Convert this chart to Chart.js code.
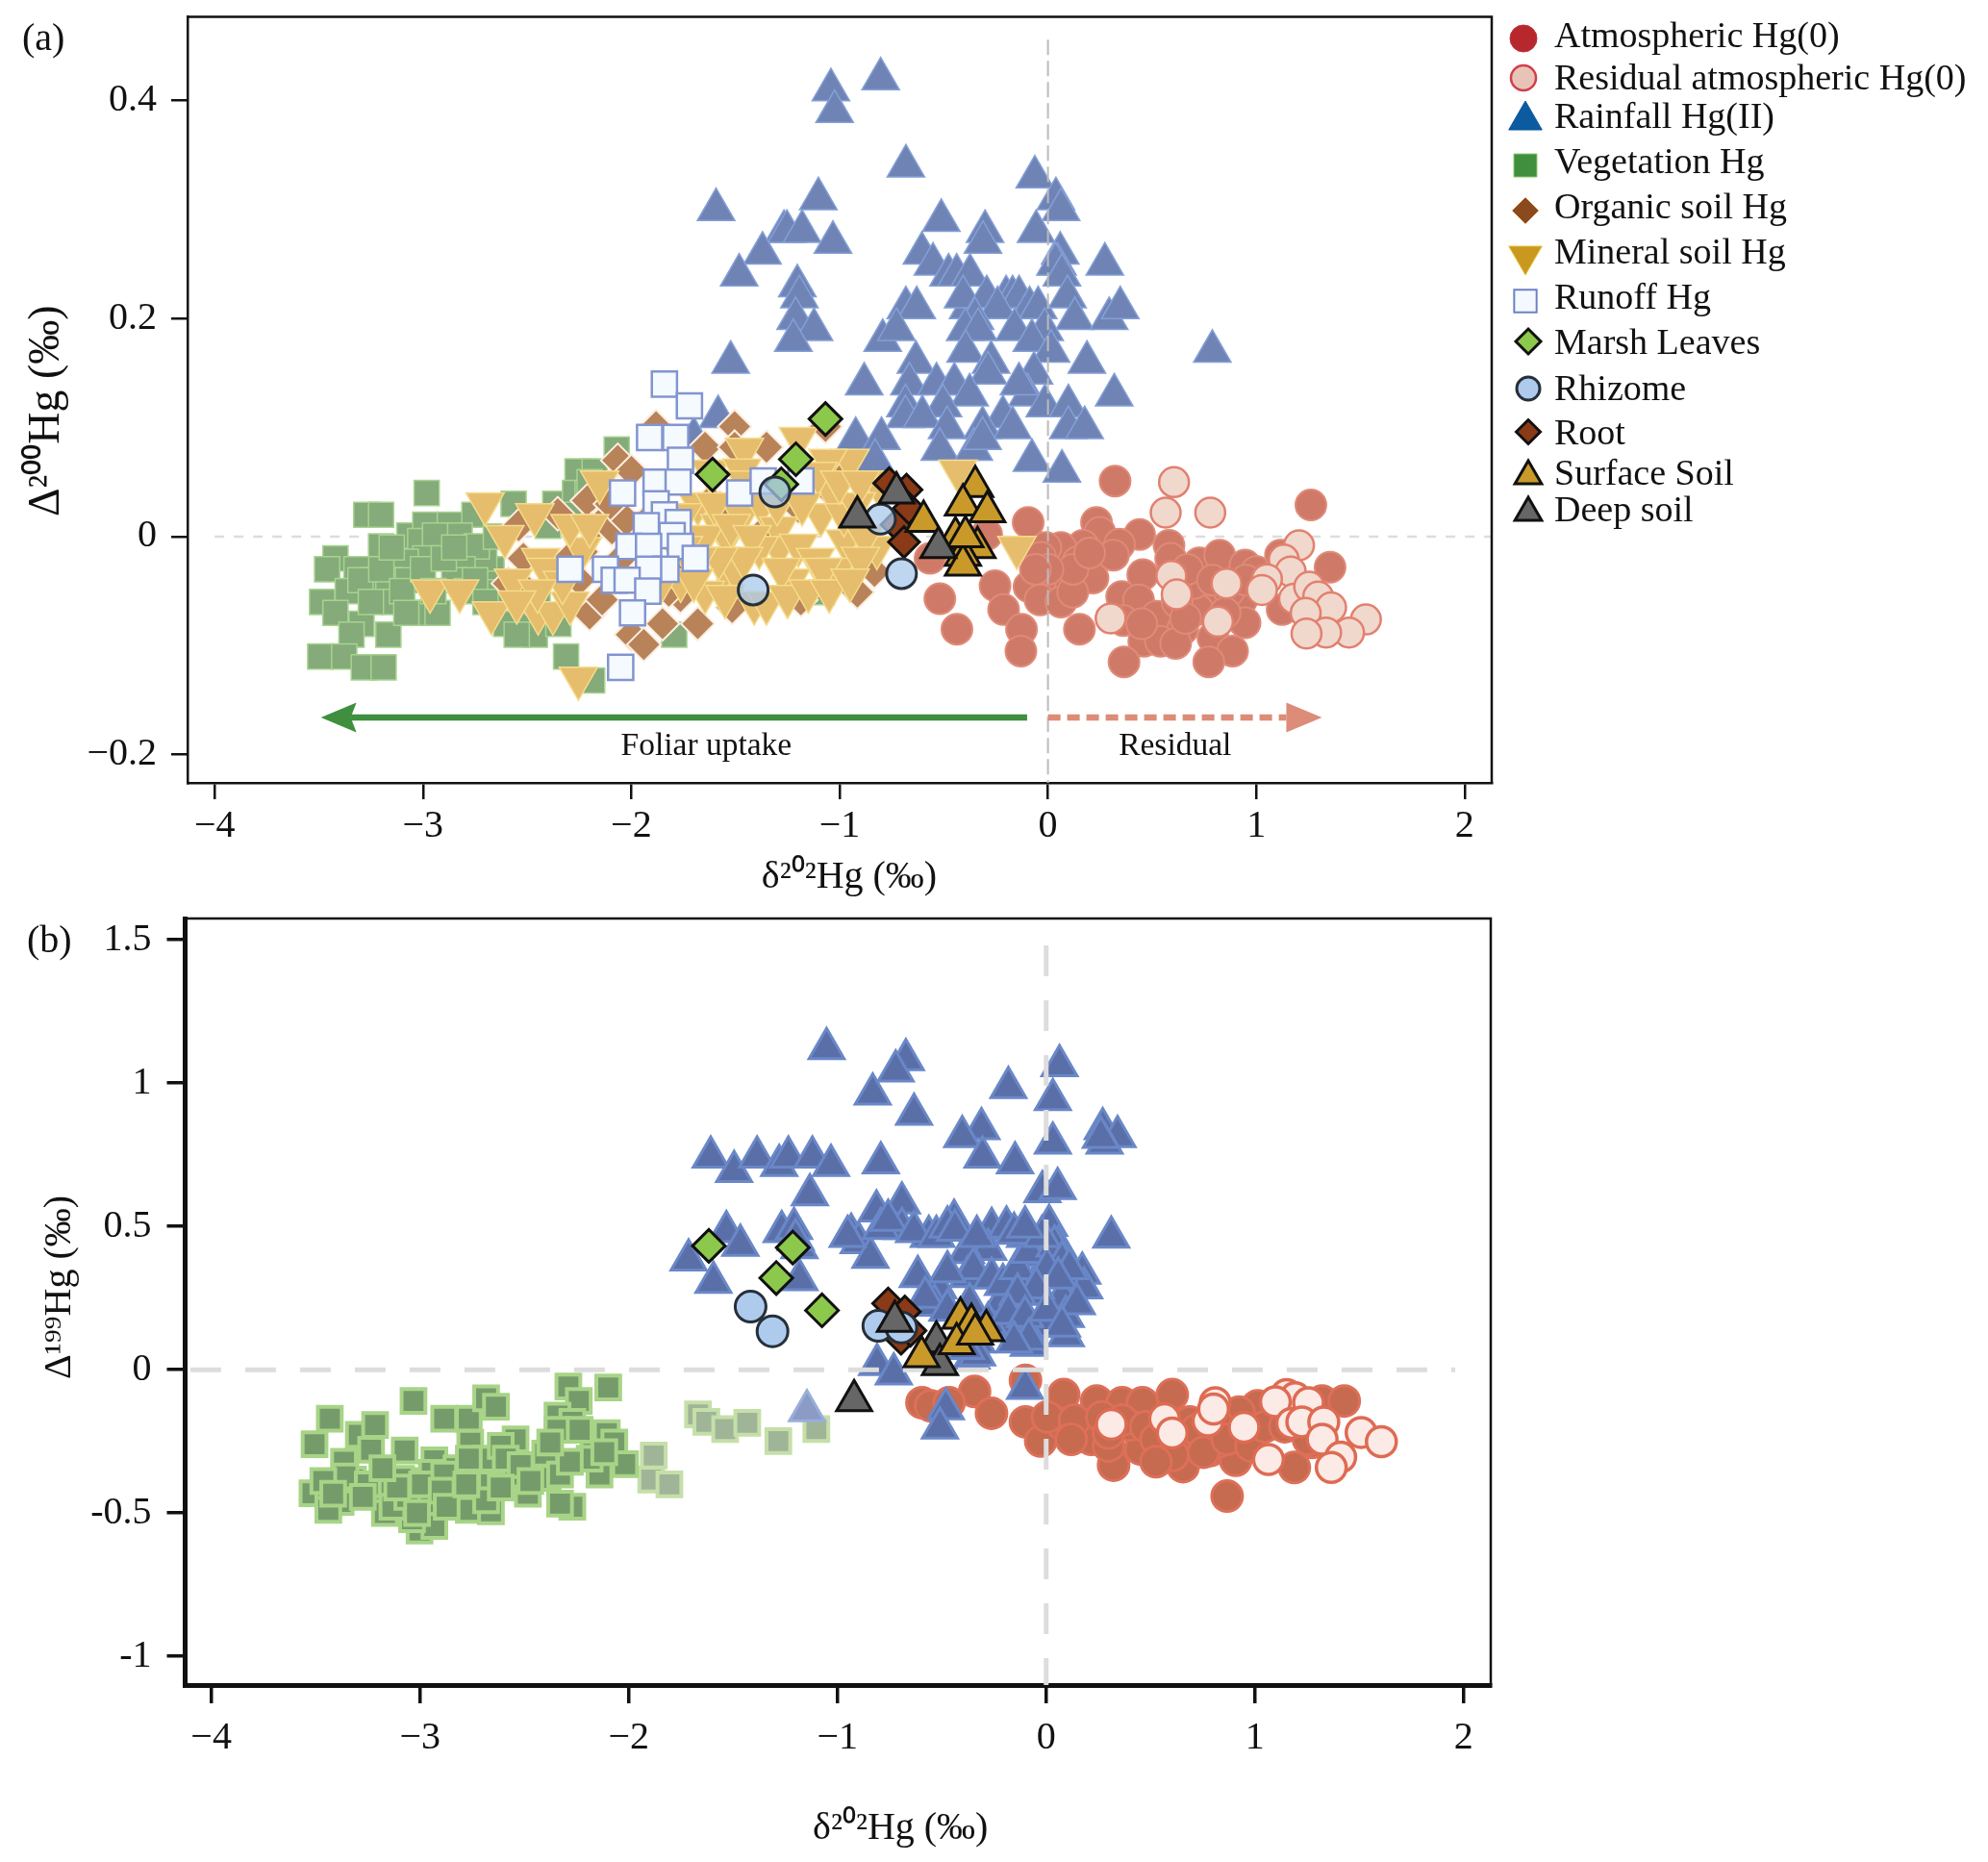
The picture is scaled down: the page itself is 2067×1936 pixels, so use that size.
<!DOCTYPE html>
<html>
<head>
<meta charset="utf-8">
<style>
  html, body { margin: 0; padding: 0; background: #fff; }
  canvas { position: absolute; left: 0; }
  #chartA { top: -7px; }
  #chartB { top: 931px; }
</style>
<script src="https://cdn.jsdelivr.net/npm/chart.js@4"></script>
</head>
<body>
<canvas id="chartA" width="2067" height="952"></canvas>
<canvas id="chartB" width="2067" height="1005"></canvas>
<script>
// axis ticks
const xTicks = [-4, -3, -2, -1, 0, 1, 2];
const xTickLabels = ['−4', '−3', '−2', '−1', '0', '1', '2'];
const yTicksA = [-0.2, 0, 0.2, 0.4];
const yTickLabelsA = ['−0.2', '0', '0.2', '0.4'];
const yTicksB = [-1, -0.5, 0, 0.5, 1, 1.5];
const yTickLabelsB = ['-1', '-0.5', '0', '0.5', '1', '1.5'];

const legendLabels = ['Atmospheric Hg(0)', 'Residual atmospheric Hg(0)', 'Rainfall Hg(II)', 'Vegetation Hg', 'Organic soil Hg',
  'Mineral soil Hg', 'Runoff Hg', 'Marsh Leaves', 'Rhizome', 'Root', 'Surface Soil', 'Deep soil'];

// panel (a): delta202 vs Delta200
const atmosphericA = [[.322,.051],[1.262,.029],[-.095,.013],[.233,.013],[.249,.004],[.44,.002],[.343,-.007],[.314,-.017],[.168,-.008],[.062,-.01],
  [-.01,-.01],[-.035,-.019],[.143,-.023],[.581,-.008],[.216,-.038],[.07,-.04],[-.035,-.04],[-.091,-.046],[-.254,-.045],[-.213,-.067],
  [-.127,-.085],[-.13,-.105],[-.437,-.085],[-.519,-.057],[-.038,-.058],[.062,-.06],[.119,-.051],[.151,-.085],[.455,-.035],[.354,-.055],
  [.435,-.058],[.362,-.077],[.521,-.073],[.646,-.085],[.46,-.096],[.54,-.096],[.613,-.098],[.365,-.115],[.727,-.024],[.824,-.017],
  [.946,-.026],[1.0,-.032],[.767,-.055],[.719,-.067],[.93,-.058],[.946,-.079],[.792,-.093],[.886,-.105],[.772,-.115],[1.116,-.017],
  [1.124,-.067],[1.354,-.028],[-.294,.002],[-.566,-.02],[.589,-.02],[.7,-.043],
  [.12,-.03],[.2,-.015],[.67,-.03],[.87,-.05],[.62,-.06],[.66,-.075],[.85,-.07],[.45,-.08],[0,-.03],[-.06,-.03],[.79,-.04],[.95,-.04]];
const residualA = [[.605,.05],[.565,.022],[.779,.022],[1.205,-.008],[1.132,-.021],[1.165,-.032],[1.051,-.039],[1.027,-.049],[.592,-.036],[.618,-.053],
  [.857,-.043],[.301,-.075],[.816,-.078],[1.181,-.057],[1.254,-.046],[1.297,-.055],[1.359,-.065],[1.237,-.07],[1.526,-.076],[1.445,-.088],
  [1.335,-.088],[1.241,-.089]];
const rainfallA = [[-.803,.42],[-1.042,.41],[-1.024,.39],[-.682,.34],[-.063,.33],[.038,.31],[.063,.3],[-1.593,.3],[-1.102,.31],[-.512,.29],
  [-.302,.28],[-.312,.27],[-.057,.28],[-1.267,.28],[-1.253,.28],[-1.18,.28],[-1.032,.27],[-1.37,.26],[-1.482,.24],[-.605,.26],
  [-.552,.25],[-.477,.24],[-.438,.24],[-.374,.24],[.273,.25],[.059,.26],[.046,.25],[.036,.25],[.067,.24],[-1.203,.23],
  [-1.193,.22],[-1.211,.2],[-1.123,.19],[-1.222,.18],[-.682,.21],[-.63,.21],[-.383,.21],[-.407,.22],[-.294,.22],[-.201,.22],
  [-.17,.22],[-.139,.22],[-.242,.21],[-.088,.21],[-.047,.21],[.094,.22],[.129,.2],[.294,.2],[.347,.21],[-.35,.2],
  [-.397,.19],[-.335,.19],[-.16,.19],[-.016,.19],[-.077,.18],[.015,.17],[.789,.17],[-.793,.18],[-.727,.19],[-.395,.17],
  [-.634,.16],[-.273,.16],[.187,.16],[-1.523,.16],[-.882,.14],[-.665,.14],[-.535,.14],[-.449,.14],[-.288,.15],[-.067,.15],
  [.318,.13],[-.098,.13],[-.139,.14],[-.376,.13],[-.015,.12],[.098,.12],[-.684,.12],[-.504,.12],[-.216,.11],[-.684,.11],
  [-.603,.11],[-1.583,.11],[-.484,.1],[.098,.1],[.176,.1],[-.314,.1],[-.17,.1],[-.923,.09],[-.799,.09],[-.519,.08],
  [-.356,.08],[-.314,.09],[-.077,.07],[.067,.06],[-.83,.07],[-1.7,.09]];
const vegetationA = [[-2.982,.04],[-3.272,.02],[-3.201,.02],[-3.065,.001],[-3.201,-.009],[-2.989,.011],[-2.871,.011],[-2.753,.02],[-2.824,.001],[-3.013,-.004],
  [-2.942,.001],[-2.989,-.02],[-3.083,-.023],[-3.42,-.02],[-3.46,-.03],[-3.319,-.03],[-3.237,-.04],[-3.166,-.04],[-3.072,-.04],[-3.361,-.05],
  [-3.484,-.06],[-3.42,-.07],[-3.295,-.08],[-3.343,-.09],[-3.166,-.09],[-3.493,-.11],[-3.378,-.11],[-3.284,-.12],[-3.189,-.12],[-3.001,-.07],
  [-2.93,-.07],[-3.142,-.06],[-2.671,-.03],[-2.706,-.02],[-2.742,-.009],[-2.647,-.051],[-2.565,.03],[-2.365,.03],[-2.258,.06],[-2.176,.06],
  [-2.07,.08],[-2.27,.04],[-2.21,.04],[-2.53,-.07],[-2.463,-.09],[-2.313,-.11],[-2.188,-.132],[-1.794,-.09],[-1.085,-.051],[-1.528,-.05],
  [-2.81,-.03],[-2.85,-.04],[-2.79,-.05],
  [-3.3,-.04],[-3.2,-.03],[-3.1,-.05],[-3,-.03],[-2.95,-.05],[-2.9,-.02],[-2.85,-.01],[-2.75,-.04],[-2.7,-.06],[-2.6,-.08],
  [-2.65,0],[-2.55,-.09],[-2.45,-.06],[-2.35,-.08],[-2.3,.02],[-2.4,.01],[-3.15,-.01],[-3.08,-.07],[-3.25,-.06],[-2.2,.05]];
const organicA = [[-2.065,.07],[-2.211,.033],[-1.881,.101],[-1.504,.101],[-1.646,.082],[-1.504,.082],[-1.351,.082],[-1.068,.101],[-1.999,.06],[-2.353,.021],
  [-2.541,.01],[-2.518,-.02],[-2.117,.018],[-2.188,.007],[-2.093,.007],[-2.023,.015],[-2.235,-.014],[-2.2,-.071],[-2.14,-.058],[-2,-.09],
  [-1.94,-.099],[-1.764,-.055],[-1.681,-.08],[-1.516,-.065],[-1.186,-.058],[-.915,-.051],[-.833,-.032],[-1.62,.033],[-1.575,.027],[-1.386,.001],
  [-1.198,.027],[-1.033,.039],[-.986,.054],[-1.82,-.05],[-1.76,-.04],[-1.29,.048],[-2.59,-.043],[-2.518,-.046],
  [-2.3,-.02],[-2.25,-.04],[-2.1,-.03],[-2.05,-.02],[-1.95,-.04],[-1.85,-.08],[-1.9,.02],[-2.1,.03],[-1.75,-.02]];
const mineralA = [[-2.966,-.05],[-2.824,-.05],[-2.702,.03],[-2.607,0],[-2.463,.02],[-2.671,-.07],[-2.565,-.04],[-2.435,-.021],[-2.235,-.011],[-2.294,.01],
  [-2.152,.05],[-2.447,-.07],[-2.376,-.07],[-2.294,-.061],[-2.254,-.13],[-2.41,-.03],[-2.33,-.042],[-1.681,.03],[-1.457,.08],[-1.198,.09],
  [-.95,.07],[-1.056,.07],[-1.033,.04],[-1.09,.02],[-1.575,.01],[-1.54,0],[-1.469,.02],[-1.375,.03],[-1.292,.008],[-.974,-.004],
  [-1.292,-.01],[-1.198,-.008],[-1.386,-.01],[-.821,-.01],[-1.116,-.021],[-1.01,-.03],[-1.551,-.03],[-1.233,-.04],[-1.41,-.061],[-1.351,-.061],
  [-1.646,-.051],[-1.504,-.03],[-1.763,-.04],[-.432,.06],[-.149,-.01],[-.821,.05],[-1.622,.06],[-1.469,.061],[-1.104,.058],[-1.81,0],[-1.858,-.042],
  [-1.75,.02],[-1.7,-.01],[-1.6,.03],[-1.65,0],[-1.45,.05],[-1.52,.01],[-1.42,0],[-1.3,.03],[-1.18,.03],[-.98,.02],
  [-.92,.03],[-.88,0],[-.9,-.02],[-1.08,-.03],[-1.28,-.03],[-1.46,-.02],[-1.58,-.02],[-1.68,-.02],[-1.75,-.01],[-1.7,-.04],
  [-1.55,-.055],[-1.25,-.055],[-1.15,-.05],[-1.05,-.05],[-.95,-.04],[-2.45,-.05],[-2.2,.01],[-2.55,-.06],[-1,.05],[-.9,.05]];
const runoffA = [[-1.841,.14],[-1.721,.12],[-1.912,.091],[-1.787,.091],[-1.764,.07],[-1.881,.05],[-1.775,.05],[-2.042,.04],[-1.48,.04],[-1.367,.051],
  [-1.186,.051],[-1.881,.03],[-1.841,.02],[-1.775,.013],[-1.928,.01],[-1.804,.001],[-2.011,-.009],[-1.917,-.009],[-1.764,-.009],[-1.693,-.02],
  [-2.294,-.03],[-2.124,-.03],[-1.834,-.03],[-1.917,-.03],[-2.082,-.04],[-2.02,-.04],[-1.921,-.05],[-1.994,-.07],[-2.051,-.12]];
const marshA = [[-1.068,.108],[-1.21,.071],[-1.61,.057],[-1.28,.048]];
const rhizomeA = [[-1.311,.041],[-1.415,-.049],[-.703,-.034],[-.804,.016]];
const rootA = [[-.762,.049],[-.679,.043],[-.727,.011],[-.691,-.005],[-.668,.026]];
const surfaceA = [[-.349,.046],[-.408,.029],[-.291,.023],[-.597,.014],[-.444,-.001],[-.338,-.01],[-.408,-.017],[-.408,-.026],[-.396,0]];
const deepA = [[-.915,.018],[-.727,.04],[-.526,-.01]];

// panel (b): delta202 vs Delta199
const atmosphericB = [[-.099,-.037],[-.343,-.076],[-.595,-.115],[-.554,-.126],[-.465,-.115],[-.262,-.152],[-.099,-.182],[-.026,-.249],[.084,-.087],[.242,-.109],
  [.364,-.115],[.461,-.115],[.604,-.087],[.071,-.187],[.161,-.232],[.217,-.243],[.323,-.333],[.453,-.277],[.567,-.305],[.656,-.338],
  [.786,-.282],[.908,-.316],[1.189,-.341],[.867,-.441],[1.013,-.126],[1.322,-.109],[1.428,-.109],[.924,-.148],[.688,-.182],[.396,-.193],
  [.997,-.215],[.818,-.254],[.299,-.266],[.591,-.266],[1.273,-.254],
  [.006,-.165],[.136,-.176],[.266,-.165],[.364,-.176],[.477,-.199],[.12,-.243],[.299,-.221],[.526,-.243],[.623,-.232],[.721,-.21],
  [.818,-.187],[.754,-.288],[.867,-.243],[.981,-.266],[1.046,-.199],[.607,-.299],[.526,-.321],[1.143,-.199],[1.257,-.243]];
const residualB = [[.312,-.191],[.567,-.171],[.604,-.221],[.775,-.179],[.948,-.201],[.81,-.115],[.802,-.137],[1.065,-.313],[1.152,-.087],[1.193,-.098],
  [1.098,-.112],[1.257,-.115],[1.176,-.187],[1.225,-.182],[1.33,-.182],[1.322,-.243],[1.509,-.219],[1.606,-.251],[1.411,-.305],[1.366,-.341]];
const rainfallB = [[-1.052,1.12],[-.672,1.082],[-.721,1.042],[.064,1.061],[-.181,.984],[-.831,.962],[.032,.942],[-.633,.891],[-.31,.841],[-.402,.813],
  [.032,.791],[.271,.841],[.342,.813],[.28,.791],[.262,.811],[-1.607,.742],[-1.495,.692],[-1.385,.742],[-1.279,.713],[-1.235,.742],
  [-1.12,.742],[-1.031,.713],[-.792,.722],[-.305,.742],[-.149,.722],[-.018,.621],[.055,.632],[-1.132,.61],[-.813,.554],[-.691,.582],
  [-.691,.493],[-.441,.521],[-.261,.493],[-.101,.465],[.014,.504],[.312,.463],[-1.532,.482],[-1.465,.434],[-1.267,.482],[-1.208,.493],
  [-1.182,.426],[-1.713,.383],[-1.594,.305],[-1.182,.314],[-.934,.473],[-.898,.443],[-.842,.392],[-.562,.465],[-.278,.42],[-.384,.409],
  [-.615,.325],[-.517,.286],[-.376,.325],[-.021,.342],[.173,.337],[.182,.286],[-.216,.236],[-.535,.225],[.076,.253],[-.066,.264],
  [.094,.186],[.014,.152],[-.083,.124],[.094,.119],[-.083,.085],[-.181,.152],[-.331,.097],[-.358,.041],[-.81,.018],[-.73,-.015],
  [-.101,-.065],[-.481,-.136],[-.509,-.203],[.058,.43],[-.083,.398],[-.154,.32],
  [-.349,.353],[-.473,.342],[-.261,.32],[-.207,.297],[-.137,.353],[-.083,.41],[.04,.432],[.076,.376],[.005,.353],[.112,.353],
  [.058,.32],[-.048,.286],[-.137,.264],[.147,.23],[-.579,.253],[-.473,.208],[-.367,.23],[-.278,.163],[-.181,.197],[-.101,.186],
  [.005,.208],[-.331,.052],[-.384,.074],[-.083,.107],[-.154,.097],[.076,.152],[-.792,.493],[-.757,.521],[-.633,.482],[-.526,.465],
  [-.473,.498],[-.437,.487],[-.332,.465],[-.19,.498],[-.154,.476],[-.02,.465],[-.101,.498],[-.951,.465],[-1.2,.454]];
const rainfallPaleB = [[-1.146,-.143]];
const vegetationB = [[-3.432,-.171],[-3.505,-.26],[-3.293,-.227],[-3.215,-.193],[-3.234,-.279],[-3.364,-.321],[-3.031,-.109],[-2.884,-.171],[-2.766,-.171],[-2.683,-.1],
  [-2.636,-.129],[-2.759,-.255],[-3.073,-.282],[-2.931,-.316],[-2.289,-.059],[-2.098,-.062],[-2.239,-.109],[-2.341,-.16],[-2.27,-.182],[-2.341,-.21],
  [-2.542,-.243],[-2.683,-.31],[-2.613,-.266],[-2.4,-.293],[-2.169,-.26],[-2.105,-.221],[-2.069,-.254],[-2.017,-.33],[-2.14,-.366],[-2.187,-.31],
  [-3.515,-.431],[-3.439,-.467],[-3.38,-.461],[-3.321,-.383],[-3.203,-.422],[-3.09,-.381],[-2.979,-.388],[-2.943,-.36],[-2.825,-.344],[-3.168,-.5],
  [-2.955,-.469],[-2.806,-.433],[-2.766,-.489],[-2.66,-.4],[-2.66,-.494],[-2.483,-.433],[-2.388,-.377],[-2.27,-.478],[-2.329,-.467],[-3.002,-.561],
  [-2.931,-.545],[-3.038,-.522],[-2.542,-.366],[-3.439,-.489],
  [-3.357,-.372],[-3.25,-.4],[-3.463,-.388],[-3.416,-.433],[-3.274,-.444],[-3.132,-.478],[-3.061,-.444],[-2.99,-.4],[-2.884,-.366],[-2.896,-.422],
  [-2.872,-.478],[-3.014,-.5],[-3.109,-.411],[-2.683,-.455],[-2.589,-.31],[-2.518,-.333],[-2.329,-.366],[-2.282,-.321],[-2.376,-.254],[-2.471,-.388],
  [-2.235,-.21],[-2.117,-.288],[-2.778,-.4],[-2.613,-.411],[-2.766,-.31],[-3.18,-.344]];
const vegetationPaleB = [[-1.668,-.156],[-1.628,-.182],[-1.538,-.207],[-1.432,-.185],[-1.283,-.249],[-1.101,-.207],[-1.88,-.299],[-1.892,-.383],[-1.805,-.4]];
const marshB = [[-1.616,.432],[-1.214,.426],[-1.293,.32],[-1.074,.207]];
const rhizomeB = [[-1.416,.22],[-1.311,.134],[-.804,.153],[-.694,.147]];
const rootB = [[-.757,.231],[-.677,.203],[-.695,.108],[-.65,.136]];
const surfaceB = [[-.411,.18],[-.358,.158],[-.287,.136],[-.429,.091],[-.597,.046],[-.34,.125]];
const deepB = [[-.725,.169],[-.526,.097],[-.509,.018],[-.92,-.108]];

// arrows of panel (a), in data units
const foliarArrow = [[-.1, -.166], [-3.49, -.166]];
const residualArrow = [[0, -.166], [1.315, -.166]];

Chart.defaults.font.family = "'Liberation Serif', serif";
Chart.defaults.color = '#111';

function pts(list) {
  return list.map(p => ({x: p[0], y: p[1]}));
}

function mark(label, list, style, fill, edge, radius, width, rotation) {
  return {label: label, data: pts(list), showLine: false, pointStyle: style, backgroundColor: fill, borderColor: edge,
    pointRadius: radius, pointHoverRadius: radius, pointBorderWidth: width, pointRotation: rotation || 0};
}

function zeroLine(label, a, b, color, width, dash) {
  return {label: label, data: pts([a, b]), showLine: true, pointRadius: 0, borderColor: color, borderWidth: width, borderDash: dash};
}

// first in the list is painted first, so it ends up at the bottom
function stack(list) {
  return list.map((d, i) => Object.assign(d, {order: list.length - i}));
}

const frame = {
  id: 'frame',
  afterDraw(chart) {
    const a = chart.chartArea, c = chart.ctx;
    c.save();
    c.strokeStyle = '#111';
    c.lineWidth = 2.5;
    c.beginPath();
    c.moveTo(a.left, a.top); c.lineTo(a.right, a.top); c.lineTo(a.right, a.bottom);
    c.stroke();
    c.restore();
  }
};

function note(c, text, x, y, size, align) {
  c.font = size + "px 'Liberation Serif'";
  c.fillStyle = '#111';
  c.textAlign = align || 'left';
  c.textBaseline = 'alphabetic';
  c.fillText(text, x, y);
}

function arrow(chart, line, color, dash, notch) {
  const c = chart.ctx, sx = chart.scales.x, sy = chart.scales.y;
  const x0 = sx.getPixelForValue(line[0][0]), x1 = sx.getPixelForValue(line[1][0]), y = sy.getPixelForValue(line[0][1]);
  const dir = x1 > x0 ? 1 : -1, headLen = 37, headHalf = 15.5;
  c.save();
  c.strokeStyle = color; c.fillStyle = color; c.lineWidth = 6.5; c.setLineDash(dash);
  c.beginPath(); c.moveTo(x0, y); c.lineTo(x1 - dir * (headLen - notch), y); c.stroke();
  c.setLineDash([]);
  c.beginPath();
  c.moveTo(x1, y);
  c.lineTo(x1 - dir * headLen, y - headHalf);
  c.lineTo(x1 - dir * (headLen - notch), y);
  c.lineTo(x1 - dir * headLen, y + headHalf);
  c.closePath(); c.fill();
  c.restore();
}

const notesA = {
  id: 'notesA',
  afterDraw(chart) {
    const sx = chart.scales.x, sy = chart.scales.y, c = chart.ctx;
    arrow(chart, foliarArrow, '#3f8f3f', [], 6);
    arrow(chart, residualArrow, '#dc8c78', [13, 7], 0);
    note(c, 'Foliar uptake', sx.getPixelForValue(-1.64), sy.getPixelForValue(-.2), 33.5, 'center');
    note(c, 'Residual', sx.getPixelForValue(.61), sy.getPixelForValue(-.2), 33.5, 'center');
    note(c, '(a)', 23, 59, 40);
  }
};

const notesB = {
  id: 'notesB',
  afterDraw(chart) {
    note(chart.ctx, '(b)', 28, 59, 40);
  }
};

// legend rows: marker y, text baseline, marker x and look (page coordinates)
const legendRows = [
  {y: 40, base: 49, x: 1584, style: 'circle', r: 14, fill: '#b7282e', edge: '#c0303a', w: 1},
  {y: 81, base: 93, x: 1584, style: 'circle', r: 13, fill: '#e8c4b8', edge: '#d0404a', w: 2.5},
  {y: 125, base: 133, x: 1586, style: 'triangle', r: 20, fill: '#0c5aa0', edge: '#0c5aa0', w: 1},
  {y: 172, base: 180, x: 1586, style: 'rect', r: 17, fill: '#3f8f3f', edge: '#8fd06f', w: 1},
  {y: 219, base: 227, x: 1586, style: 'rectRot', r: 14, fill: '#8a4a1e', edge: '#f2c79a', w: 1},
  {y: 266, base: 274, x: 1586, style: 'triangle', r: 20, fill: '#c9981f', edge: '#e8c53a', w: 1, rot: 180},
  {y: 313, base: 321, x: 1586, style: 'rect', r: 16.5, fill: '#f4f9ff', edge: '#6c82c4', w: 2},
  {y: 355, base: 368, x: 1589, style: 'rectRot', r: 13, fill: '#8cc84b', edge: '#111', w: 3},
  {y: 404, base: 416, x: 1589, style: 'circle', r: 12, fill: '#aecbee', edge: '#26303a', w: 3},
  {y: 449, base: 462, x: 1589, style: 'rectRot', r: 12.5, fill: '#8a3a16', edge: '#111', w: 3},
  {y: 495, base: 504, x: 1589, style: 'triangle', r: 16, fill: '#c99a2a', edge: '#111', w: 3},
  {y: 533, base: 542, x: 1589, style: 'triangle', r: 16, fill: '#666', edge: '#111', w: 3}
];

const sideLegend = {
  id: 'sideLegend',
  afterDraw(chart) {
    const c = chart.ctx;
    c.save();
    c.translate(0, 7); // canvas A starts 7px above the page
    legendRows.forEach((row, i) => {
      c.save();
      c.fillStyle = row.fill; c.strokeStyle = row.edge; c.lineWidth = row.w;
      Chart.helpers.drawPoint(c, {pointStyle: row.style, radius: row.r, rotation: row.rot || 0, borderWidth: row.w}, row.x, row.y);
      c.restore();
      note(c, legendLabels[i], 1616, row.base, 38);
    });
    c.restore();
  }
};

function axes(yTicks, yLabels, o) {
  return {
    x: {
      type: 'linear', min: o.xMin, max: o.xMax,
      afterBuildTicks: s => { s.ticks = xTicks.map(v => ({value: v})); },
      afterFit: s => { s.height = o.bottomH; s.paddingLeft = 0; s.paddingRight = 0; },
      border: {color: '#111', width: o.bottomW},
      grid: {drawOnChartArea: false, color: '#111', tickLength: o.tick, lineWidth: o.tickW, tickWidth: o.tickW},
      ticks: {autoSkip: false, maxRotation: 0, padding: o.xPad, color: '#111', font: {size: 40}, callback: (v, i) => xTickLabels[i]},
      title: {display: true, text: o.xTitle, color: '#111', font: {size: 40}, padding: {top: 0, bottom: o.xTitlePad}}
    },
    y: {
      type: 'linear', min: o.yMin, max: o.yMax,
      afterBuildTicks: s => { s.ticks = yTicks.map(v => ({value: v})); },
      afterFit: s => { s.width = o.left; s.paddingTop = 0; s.paddingBottom = 0; },
      border: {color: '#111', width: o.leftW},
      grid: {drawOnChartArea: false, color: '#111', tickLength: o.tick, lineWidth: o.tickW, tickWidth: o.tickW},
      ticks: {autoSkip: false, padding: o.yPad, color: '#111', font: {size: 40}, callback: (v, i) => yLabels[i]},
      title: {display: true, text: o.yTitle, color: '#111', font: {size: o.yTitleSize}, padding: {top: o.yTitlePad, bottom: 0}}
    }
  };
}

const baseOptions = {
  responsive: false, animation: false, devicePixelRatio: 1,
  events: []
};

new Chart(document.getElementById('chartA'), {
  type: 'scatter',
  data: {datasets: stack([
    zeroLine('Zero y', [-4.0, 0], [2.13, 0], '#dddddd', 2.5, [10, 10]),
    mark('Atmospheric Hg(0)', atmosphericA, 'circle', '#cf7a68', '#e08a78', 16, 2),
    mark('Residual atmospheric Hg(0)', residualA, 'circle', '#f0d8cd', '#e2806e', 15.5, 2.5),
    mark('Vegetation Hg', vegetationA, 'rect', '#84ab79', '#a8d390', 18.5, 1.5),
    mark('Rainfall Hg(II)', rainfallA, 'triangle', '#6f84b5', '#84a0d8', 22.5, 1.5),
    zeroLine('Zero x', [0, .456], [0, -.226], '#bbbbbb', 2, [16, 6]),
    mark('Organic soil Hg', organicA, 'rectRot', '#b9835a', '#fbeee0', 17.5, 2),
    mark('Mineral soil Hg', mineralA, 'triangle', '#e5bd6c', '#f5dc8c', 23, 1.5, 180),
    mark('Runoff Hg', runoffA, 'rect', '#f5faff', '#8395d0', 18.5, 2.5),
    mark('Marsh Leaves', marshA, 'rectRot', '#8cc84b', '#111', 17, 3),
    mark('Root', rootA, 'rectRot', '#8a3a16', '#111', 16, 3),
    mark('Rhizome', rhizomeA, 'circle', 'rgba(168,200,235,.75)', '#26303a', 15.5, 3),
    mark('Surface Soil', surfaceA, 'triangle', '#c99a2a', '#111', 21, 3),
    mark('Deep soil', deepA, 'triangle', '#666', '#111', 21, 3)
  ])},
  options: Object.assign({}, baseOptions, {
    layout: {padding: {left: 0, right: 516, top: 0, bottom: 0}},
    plugins: {legend: {display: false}, tooltip: {enabled: false}},
    scales: axes(yTicksA, yTickLabelsA, {
      xMin: -4.13, xMax: 2.13, yMin: -.226, yMax: .477, left: 195, bottomH: 131, bottomW: 2.5, leftW: 2.5,
      tick: 17, tickW: 2.5, xPad: 4, yPad: 15, xTitlePad: 9, yTitlePad: 21, yTitleSize: 46,
      xTitle: '\u00a0\u00a0δ²⁰²Hg (‰)', yTitle: 'Δ²⁰⁰Hg (‰)\u00a0\u00a0'
    })
  }),
  plugins: [frame, notesA, sideLegend]
});

new Chart(document.getElementById('chartB'), {
  type: 'scatter',
  data: {datasets: stack([
    mark('Atmospheric Hg(0)', atmosphericB, 'circle', '#c66a50', '#dd7058', 16, 3),
    mark('Residual atmospheric Hg(0)', residualB, 'circle', '#fbeae6', '#de6b52', 15.5, 3.5),
    mark('Vegetation Hg pale', vegetationPaleB, 'rect', '#a0b597', '#c5dfa9', 17.5, 4),
    mark('Vegetation Hg', vegetationB, 'rect', '#769b6b', '#a7d486', 17.5, 4),
    mark('Rainfall Hg(II) pale', rainfallPaleB, 'triangle', '#8a9bc6', '#9aaeda', 21, 3),
    mark('Rainfall Hg(II)', rainfallB, 'triangle', '#5a6fa8', '#6a88c8', 21, 3),
    zeroLine('Zero y', [-4.1, 0], [1.96, 0], '#dddddd', 5, [32, 25]),
    zeroLine('Zero x', [0, 1.48], [0, -1.1], '#dddddd', 5, [32, 25]),
    mark('Root', rootB, 'rectRot', '#8a3a16', '#111', 16, 3),
    mark('Rhizome', rhizomeB, 'circle', '#aecbee', '#26303a', 16, 3),
    mark('Deep soil', deepB, 'triangle', '#666', '#111', 21, 3),
    mark('Surface Soil', surfaceB, 'triangle', '#c99a2a', '#111', 21, 3),
    mark('Marsh Leaves', marshB, 'rectRot', '#8cc84b', '#111', 17, 3)
  ])},
  options: Object.assign({}, baseOptions, {
    layout: {padding: {left: 0, right: 517, top: 0, bottom: 0}},
    plugins: {legend: {display: false}, tooltip: {enabled: false}},
    scales: axes(yTicksB, yTickLabelsB, {
      xMin: -4.125, xMax: 2.13, yMin: -1.1, yMax: 1.574, left: 192.5, bottomH: 184, bottomW: 5, leftW: 5,
      tick: 19, tickW: 3.5, xPad: 12, yPad: 16, xTitlePad: 11, yTitlePad: 38, yTitleSize: 40,
      xTitle: '\u00a0'.repeat(13) + 'δ²⁰²Hg (‰)', yTitle: '\u00a0\u00a0\u00a0Δ¹⁹⁹Hg (‰)'
    })
  }),
  plugins: [frame, notesB]
});
</script>
</body>
</html>
